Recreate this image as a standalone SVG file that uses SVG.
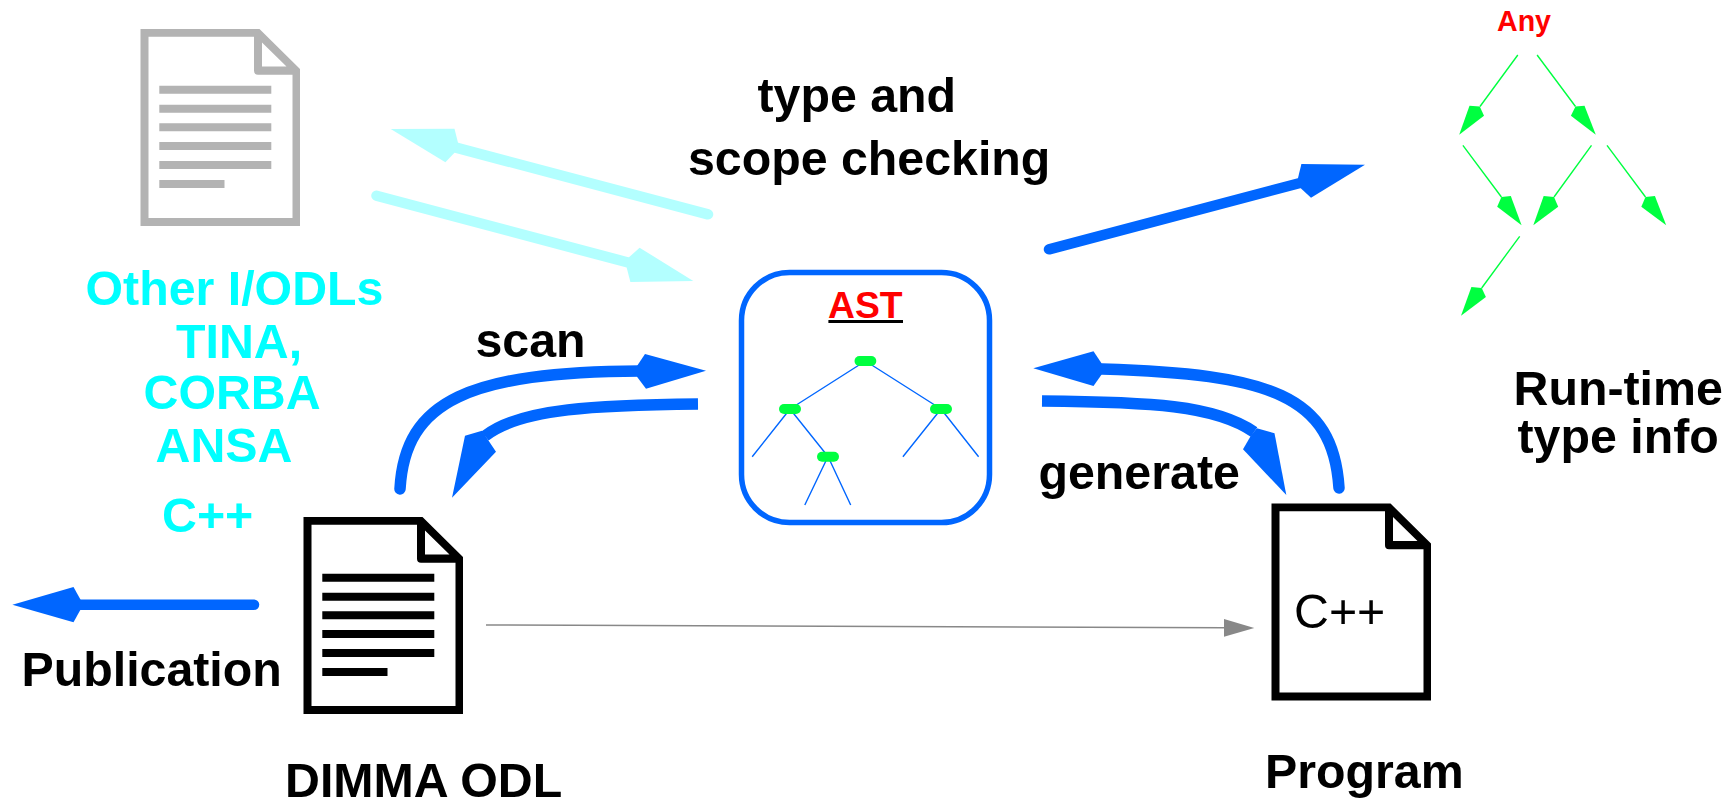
<svg xmlns="http://www.w3.org/2000/svg" xmlns:xlink="http://www.w3.org/1999/xlink" width="1736" height="801" viewBox="0 0 1736 801">
<style>
text{font-family:"Liberation Sans",Arial,sans-serif;font-weight:700;font-size:48.3px}
.k{fill:#000}.c{fill:#00ffff}
.blue{fill:none;stroke:#0066ff;stroke-width:10.5;stroke-linecap:round}
.curve{stroke-width:11.5}
.butt{stroke-linecap:butt}
.pale{fill:none;stroke:#b3ffff;stroke-width:10.5;stroke-linecap:round}
.hb{fill:#0066ff}.hp{fill:#b3ffff}.hg{fill:#00ff40}
.gl{stroke:#00ff40;stroke-width:1.4;fill:none}
.tl{stroke:#0066ff;stroke-width:1.4;fill:none}
.tn{fill:#00ff40}
</style>
<defs>
<path id="sheet" fill-rule="evenodd" d="M0,0H119L159.5,40V197H0ZM8,7.7V189H152V45.7H117.5Q113.5,45.7 113.5,41.7V7.7ZM121.5,13.5V37.5H146Z"/>
<path id="lines" d="M18.8,56.7H130.8V64.7H18.8ZM18.8,75.7H130.8V83.7H18.8ZM18.8,94.3H130.8V102.3H18.8ZM18.8,113H130.8V121H18.8ZM18.8,132H130.8V140H18.8ZM18.8,151H84V159H18.8Z"/>
</defs>
<g id="connectors">
<path class="pale" d="M708,214.3L456,147.7"/>
<polygon class="hp" points="390.7,129 454.5,128.7 458,142.7 454.5,152.7 445.4,162.3"/>
<path class="pale" d="M376.5,195.7L628,262.5"/>
<polygon class="hp" points="693.3,281 639.6,247.7 629,257.3 626.7,267.7 630.4,282"/>
<path class="blue" d="M1049,249.3L1300,183"/>
<polygon class="hb" points="1365,164.7 1301.4,164 1298,178 1300.5,188 1311,197.7"/>
<path class="blue" d="M254,604.7H80"/>
<polygon class="hb" points="12.4,604.7 73.5,587 80.3,599.3 80.3,610 73.5,622.3"/>
<path class="blue curve" d="M400,489C405,400 470,372 640,371"/>
<polygon class="hb" points="706,370.7 645,354 637,366 637,376.7 646,388.7"/>
<path class="blue curve butt" d="M698,404C600,405 520,408 485,436"/>
<polygon class="hb" points="452,497.7 465,435.7 482,430.7 487.6,439.3 496,451.7"/>
<path class="blue curve butt" d="M1042,401C1150,402 1215,405 1254,432"/>
<polygon class="hb" points="1286.3,495 1274.5,433.3 1256.8,428.3 1251.3,435 1243,449.3"/>
<path class="blue curve" d="M1339,488C1333,395 1270,374 1102,369"/>
<polygon class="hb" points="1033.3,368.3 1093.5,351.3 1102,364 1102,374 1093.5,386"/>
<path d="M486,625L1226,627.8" fill="none" stroke="#888" stroke-width="1.5"/>
<polygon points="1254.3,628 1224,619 1224,636.7" fill="#888"/>
<path class="gl" d="M1517.8,55L1480,106.5M1537.1,55L1575.5,106.5M1462.9,145.3L1501.4,197M1591.5,145.3L1554,197M1607,145.3L1645.5,197M1519.7,236.3L1481.7,288"/>
<polygon class="hg" points="1459.2,134.7 1469.5,105.7 1479.8,106.5 1484,115.7"/>
<polygon class="hg" points="1595.8,134.7 1584.5,105.7 1575.5,106.5 1570.9,115.7"/>
<polygon class="hg" points="1521.6,225.3 1510.8,196 1501.4,197 1497.2,206.7"/>
<polygon class="hg" points="1533.3,225.3 1543.7,196 1554,197 1558.2,206.7"/>
<polygon class="hg" points="1666.2,225.3 1654.9,196 1645.5,197 1641.3,206.7"/>
<polygon class="hg" points="1461,315.7 1471.4,287 1481.7,288 1485.9,297"/>
</g>
<g id="other-odl-doc" fill="#b3b3b3" transform="translate(140.5,29)"><use xlink:href="#sheet" href="#sheet"/><use xlink:href="#lines" href="#lines"/></g>
<g id="dimma-odl-doc" fill="#000" transform="translate(303.5,517)"><use xlink:href="#sheet" href="#sheet"/><use xlink:href="#lines" href="#lines"/></g>
<g id="program-doc" fill="#000" transform="translate(1271.5,503.5)"><use xlink:href="#sheet" href="#sheet"/><text x="22.5" y="124" style="font-weight:400">C++</text></g>
<g id="ast">
<rect x="741.5" y="272.5" width="248" height="250" rx="48" ry="48" fill="none" stroke="#0066ff" stroke-width="5.5"/>
<text x="828" y="318.3" fill="#f00" style="font-size:37.3px">AST</text>
<rect x="828.4" y="320" width="74.6" height="3" fill="#000"/>
<path class="tl" d="M865.4,361L790,409M865.4,361L941,409M790,409L752.2,456.7M790,409L828,456.5M941,409L902.9,456.7M941,409L978.6,456.7M828,456.5L804.8,505M828,456.5L850.7,505"/>
<rect class="tn" x="854.5" y="356" width="21.8" height="10" rx="5"/>
<rect class="tn" x="779" y="404" width="22" height="10" rx="5"/>
<rect class="tn" x="930" y="404" width="22" height="10" rx="5"/>
<rect class="tn" x="817" y="451.7" width="22" height="10" rx="5"/>
</g>
<g id="type-tree-label"><text x="1497" y="30.7" fill="#f00" style="font-size:28.6px">Any</text></g>
<g id="labels">
<text class="c" x="85.5" y="305">Other I/ODLs</text>
<text class="c" x="176" y="358">TINA,</text>
<text class="c" x="143.5" y="409">CORBA</text>
<text class="c" x="155.5" y="462">ANSA</text>
<text class="c" x="162" y="532">C++</text>
<text class="k" x="21.5" y="685.5">Publication</text>
<text class="k" x="285" y="797">DIMMA ODL</text>
<text class="k" x="1265" y="788">Program</text>
<text class="k" x="475.5" y="356.5">scan</text>
<text class="k" x="757.5" y="111.5">type and</text>
<text class="k" x="688" y="174.5">scope checking</text>
<text class="k" x="1038.5" y="489">generate</text>
<text class="k" x="1513.5" y="405">Run-time</text>
<text class="k" x="1517.5" y="453">type info</text>
</g>
</svg>
